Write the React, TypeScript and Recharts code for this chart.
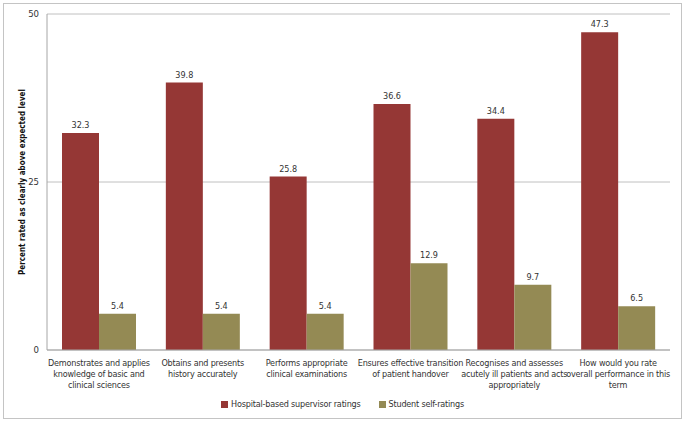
import React from 'react';
import { BarChart, Bar, XAxis, YAxis, CartesianGrid, Legend, LabelList } from 'recharts';

const categories = [
  'Demonstrates and applies\nknowledge of basic and\nclinical sciences',
  'Obtains and presents\nhistory accurately',
  'Performs appropriate\nclinical examinations',
  'Ensures effective transition\nof patient handover',
  'Recognises and assesses\nacutely ill patients and acts\nappropriately',
  'How would you rate\noverall performance in this\nterm',
];
const supervisorRatings = [32.3, 39.8, 25.8, 36.6, 34.4, 47.3];
const studentRatings = [5.4, 5.4, 5.4, 12.9, 9.7, 6.5];
const yTicks = [0, 25, 50];
const seriesNames = ['Hospital-based supervisor ratings', 'Student self-ratings'];
const yAxisTitle = 'Percent rated as clearly above expected level';

const data = categories.map((c, i) => ({
  category: c,
  supervisor: supervisorRatings[i],
  student: studentRatings[i],
}));

const FONT = "'DejaVu Sans Condensed', 'Liberation Sans', sans-serif";
const TEXT = '#333333';

const CategoryTick = (props: any) => {
  const { x, y, payload } = props;
  const lines = String(payload.value).split('\n');
  return (
    <text x={x} y={y} textAnchor="middle" fontSize={9} letterSpacing={-0.2} fill={TEXT}>
      {lines.map((l, i) => (
        <tspan key={i} x={x} dy={i === 0 ? 15.5 : 11}>
          {l}
        </tspan>
      ))}
    </text>
  );
};

const YTitle = (props: any) => {
  const vb = props.viewBox || { x: 0, y: 14, width: 47, height: 336 };
  const cx = 22;
  const cy = vb.y + vb.height / 2;
  return (
    <text
      x={cx}
      y={cy}
      transform={`rotate(-90 ${cx} ${cy})`}
      textAnchor="middle"
      dominantBaseline="central"
      fontSize={8}
      fontWeight="bold"
      fill="#111"
    >
      {yAxisTitle}
    </text>
  );
};

const renderLegend = (props: any) => {
  const payload = props.payload || [];
  return (
    <div
      style={{
        display: 'flex',
        justifyContent: 'center',
        alignItems: 'center',
        height: 20,
        fontSize: 9,
        letterSpacing: -0.2,
        color: TEXT,
      }}
    >
      {payload.map((p: any, i: number) => (
        <div key={i} style={{ display: 'flex', alignItems: 'center', marginRight: i === payload.length - 1 ? 0 : 18 }}>
          <span style={{ display: 'inline-block', width: 7, height: 7, background: p.color, marginRight: 3 }} />
          <span>{p.value}</span>
        </div>
      ))}
    </div>
  );
};

export default function App() {
  return (
    <div
      style={{
        position: 'absolute',
        left: 0,
        top: 0,
        width: 685,
        height: 422,
        background: '#fff',
        fontFamily: FONT,
      }}
    >
      <div
        style={{
          position: 'absolute',
          left: 3,
          top: 3,
          width: 677,
          height: 414,
          border: '1px solid #c4c4c4',
          pointerEvents: 'none',
        }}
      />
      <BarChart
        width={685}
        height={422}
        data={data}
        margin={{ top: 14, right: 15, left: 0, bottom: 8 }}
        barGap={0}
      >
        <CartesianGrid vertical={false} stroke="#c0c0c0" />
        <XAxis
          dataKey="category"
          interval={0}
          height={44}
          tickLine={false}
          tickSize={0}
          tickMargin={0}
          axisLine={{ stroke: '#a6a6a6' }}
          tick={<CategoryTick />}
        />
        <YAxis
          width={47}
          domain={[0, 50]}
          ticks={yTicks}
          tickLine={false}
          axisLine={{ stroke: '#a6a6a6' }}
          tick={{ fontSize: 9.5, fill: TEXT }}
          label={<YTitle />}
        />
        <Legend
          verticalAlign="bottom"
          height={20}
          content={renderLegend}
          wrapperStyle={{ left: 0, width: 685, bottom: 8 }}
        />
        <Bar dataKey="supervisor" name={seriesNames[0]} fill="#953735" barSize={37} isAnimationActive={false}>
          <LabelList dataKey="supervisor" position="top" offset={5} fontSize={9} fill={TEXT} />
        </Bar>
        <Bar dataKey="student" name={seriesNames[1]} fill="#948A54" barSize={37} isAnimationActive={false}>
          <LabelList dataKey="student" position="top" offset={5} fontSize={9} fill={TEXT} />
        </Bar>
      </BarChart>
    </div>
  );
}
